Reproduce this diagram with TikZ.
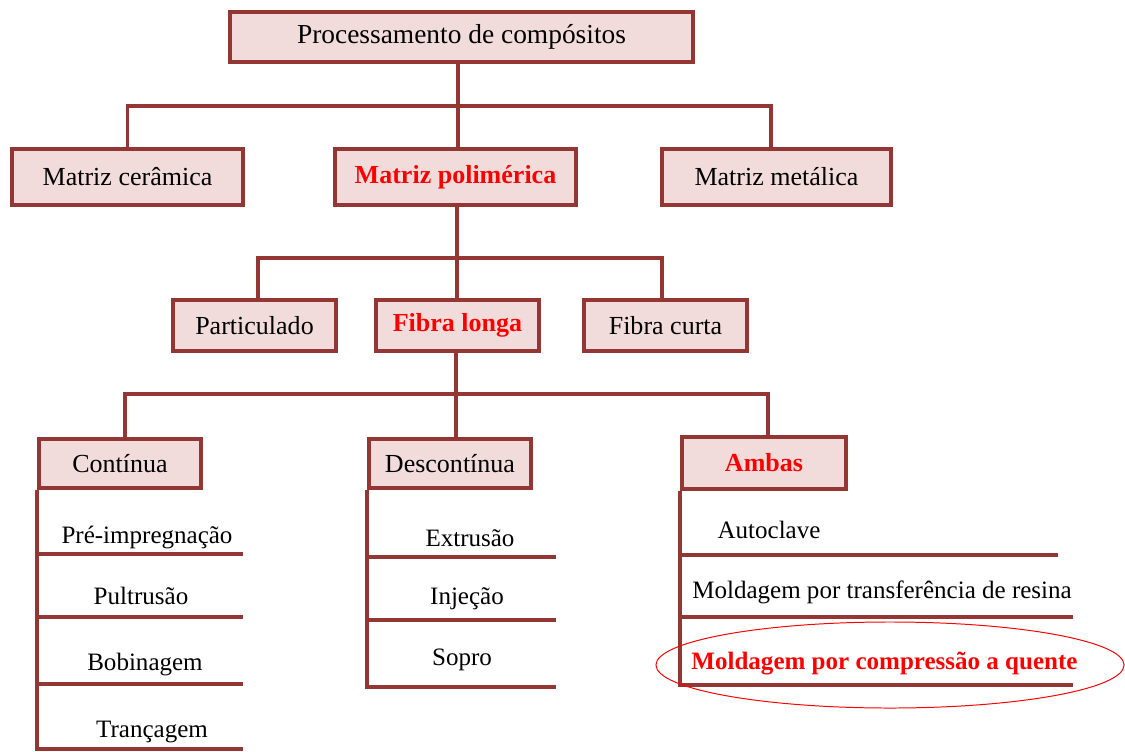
\documentclass[tikz,border=0pt]{standalone}
\usepackage{fontspec}
\setmainfont{Liberation Serif}
\usetikzlibrary{shapes.geometric}
\definecolor{box edge}{HTML}{943634}
\definecolor{box area}{HTML}{F2DCDB}
\definecolor{hot text}{HTML}{FF0000}
\tikzset{
  box/.style={draw=box edge, fill=box area, line width=2.8pt, inner sep=0pt,
    font=\fontsize{18.5}{22}\selectfont},
  hot/.style={text=hot text, font=\fontsize{18.5}{22}\selectfont\bfseries},
  wide/.style={minimum width=#1, minimum height=1.4cm},
  mid/.style={minimum width=4.075cm, minimum height=1.275cm},
  low/.style={minimum width=4.05cm, minimum height=1.225cm},
  link/.style={draw=box edge, line width=2.8pt},
  item/.style={anchor=base, inner sep=0pt, font=\fontsize{17.8}{21}\selectfont}
  }

\begin{document}
\begin{tikzpicture}[x=0.025cm, y=-0.025cm]
  \useasboundingbox (0,0) rectangle (1125,751);

  % boxes
  \node[box, minimum width=11.575cm, minimum height=1.25cm,
    font=\fontsize{19.5}{23}\selectfont] (top) at (461.5,37) {Processamento de compósitos};
  \node[box, wide=5.775cm] (mcer) at (127.5,177) {Matriz cerâmica};
  \node[box, hot, wide=6.025cm] (mpol) at (455.5,177) {Matriz polimérica};
  \node[box, wide=5.725cm] (mmet) at (776.5,177) {Matriz metálica};

  \node[box, mid] (part) at (254.5,325.5) {Particulado};
  \node[box, hot, mid] (flonga) at (457.5,325.5) {Fibra longa};
  \node[box, mid] (fcurta) at (665.5,325.5) {Fibra curta};

  \node[box, low] (cont) at (120,463.5) {Contínua};
  \node[box, low] (desc) at (450,463.5) {Descontínua};
  \node[box, hot, minimum width=4.1cm, minimum height=1.3cm] (ambas) at (764,463) {Ambas};

  % tree
  \coordinate (hubA) at (458,106);
  \coordinate (hubB) at (457,258);
  \coordinate (hubC) at (456,394);
  \path[link] (top.south -| hubA) -- (mpol.north -| hubA);
  \path[link] (mcer.north) |- (hubA) -| ([xshift=-0.1375cm]mmet.north);
  \path[link] (mpol.south -| hubB) -- (flonga.north -| hubB);
  \path[link] ([xshift=0.0875cm]part.north) |- (hubB) -| ([xshift=-0.0875cm]fcurta.north);
  \path[link] (flonga.south -| hubC) -- (desc.north -| hubC);
  \path[link] ([xshift=0.125cm]cont.north) |- (hubC) -| ([xshift=0.1cm]ambas.north);

  % lists
  \path[link] (cont.south west) -- (cont.south west |- 0,751);
  \foreach \y in {554,617,684,749}
    \path[link] (cont.south west |- 0,\y) -- (243,\y);
  \path[link] (desc.south west) |- (556,687);
  \foreach \y in {557,620}
    \path[link] (desc.south west |- 0,\y) -- (556,\y);
  \path[link] (ambas.south west) |- (1073,685);
  \path[link] (ambas.south west |- 0,555) -- (1058,555);
  \path[link] (ambas.south west |- 0,617) -- (1073,617);

  \foreach \name/\x/\y/\txt in {pre/147/543/Pré-impregnação, pul/141/604/Pultrusão,
      bob/145/670/Bobinagem, tran/152/737/Trançagem,
      extr/470/546/Extrusão, inje/467/604/Injeção, sopr/462/665/Sopro,
      auto/769/538/Autoclave, mtr/882/598/Moldagem por transferência de resina} {
    \node[item] (\name) at (\x,\y) {\txt};
  }
  \node[item, text=hot text, font=\fontsize{17.8}{21}\selectfont\bfseries] (mcq) at (884.5,669)
    {Moldagem por compressão a quente};

  \node[ellipse, draw=hot text, line width=0.7pt, minimum width=11.7cm,
    minimum height=2.15cm] (ring) at (890,665) {};
\end{tikzpicture}
\end{document}
